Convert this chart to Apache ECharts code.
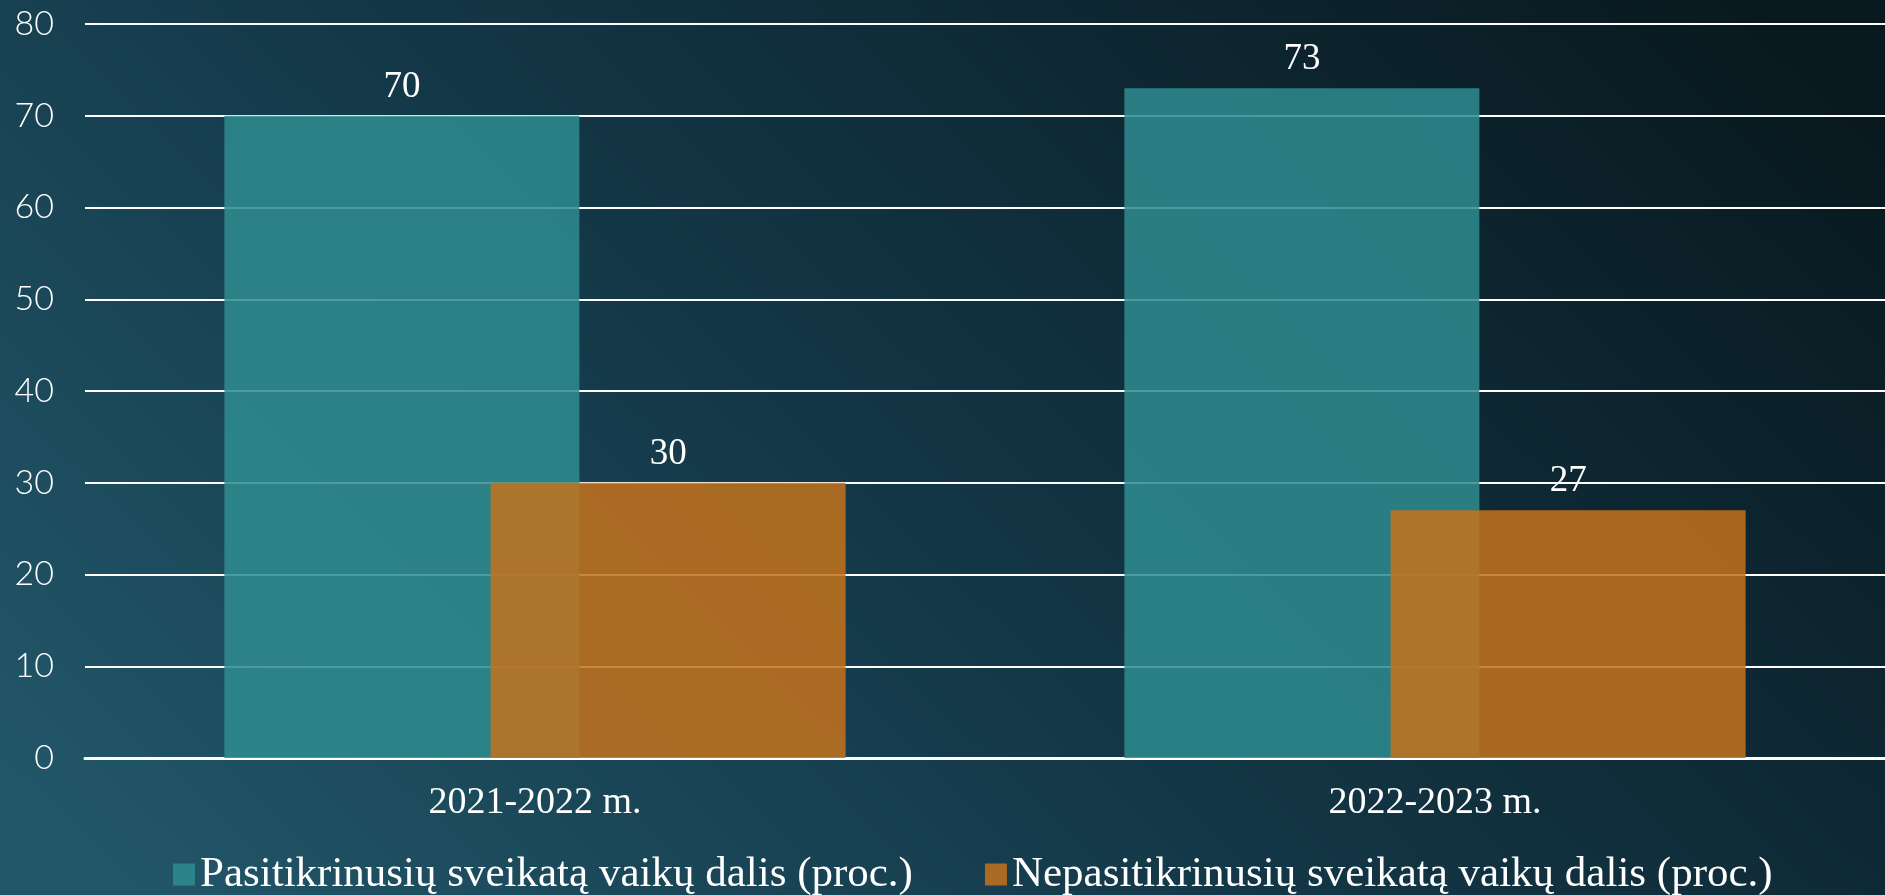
<!DOCTYPE html>
<html>
<head>
<meta charset="utf-8">
<script src="https://cdn.jsdelivr.net/npm/echarts@6/dist/echarts.min.js"></script>
<style>
  html, body { margin: 0; padding: 0; }
  #chart { width: 1885px; height: 895px; }
</style>
</head>
<body>
<div id="chart"></div>
<script>
const categories = ['2021-2022 m.', '2022-2023 m.']
const checkedName = 'Pasitikrinusių sveikatą vaikų dalis (proc.)'
const uncheckedName = 'Nepasitikrinusių sveikatą vaikų dalis (proc.)'
const checked = [70, 73]
const unchecked = [30, 27]

const serif = '"Liberation Serif", "Times New Roman", serif'

var myChart = echarts.init(document.getElementById('chart'), null, {
  width: 1885,
  height: 895
})

let option = {
  // diagonal gradient: light bottom-left, dark top-right
  backgroundColor: {
    type: 'linear',
    x: 330, y: 1080, x2: 1560, y2: -180,
    global: true,
    colorStops: [
      { offset: 0, color: '#215668' },
      { offset: 0.45, color: '#133747' },
      { offset: 1, color: '#09191f' }
    ]
  },
  animation: false,
  grid: {
    left: 85,
    right: 0,
    top: 24,
    bottom: 137
  },
  legend: {
    left: 168,
    top: 848,
    itemWidth: 22,
    itemHeight: 22,
    itemGap: 72,
    icon: 'rect',
    textStyle: {
      color: '#ffffff',
      fontFamily: serif,
      fontSize: 43
    },
    data: [checkedName, uncheckedName]
  },
  xAxis: {
    type: 'category',
    data: categories,
    axisLine: { lineStyle: { color: '#ffffff', width: 3 } },
    axisTick: { show: false },
    axisLabel: {
      color: '#ffffff',
      fontFamily: serif,
      fontSize: 38,
      margin: 26
    }
  },
  yAxis: {
    type: 'value',
    min: 0,
    max: 80,
    interval: 10,
    axisLine: { show: false },
    axisTick: { show: false },
    splitLine: { lineStyle: { color: '#ffffff', width: 2 } },
    axisLabel: {
      color: '#ffffff',
      fontFamily: 'Lato, "Noto Sans", sans-serif',
      fontWeight: 300,
      fontSize: 34,
      margin: 31
    }
  },
  series: [
    {
      name: checkedName,
      type: 'bar',
      barWidth: 355,
      barGap: '-25%',
      data: checked,
      itemStyle: { color: 'rgba(46, 140, 143, 0.86)' },
      label: {
        show: true,
        position: 'top',
        distance: 10,
        color: '#ffffff',
        fontFamily: serif,
        fontSize: 37
      }
    },
    {
      name: uncheckedName,
      type: 'bar',
      barWidth: 355,
      data: unchecked,
      itemStyle: { color: 'rgba(194, 114, 28, 0.86)' },
      label: {
        show: true,
        position: 'top',
        distance: 10,
        color: '#ffffff',
        fontFamily: serif,
        fontSize: 37
      }
    }
  ]
}

option && myChart.setOption(option)
</script>
</body>
</html>
